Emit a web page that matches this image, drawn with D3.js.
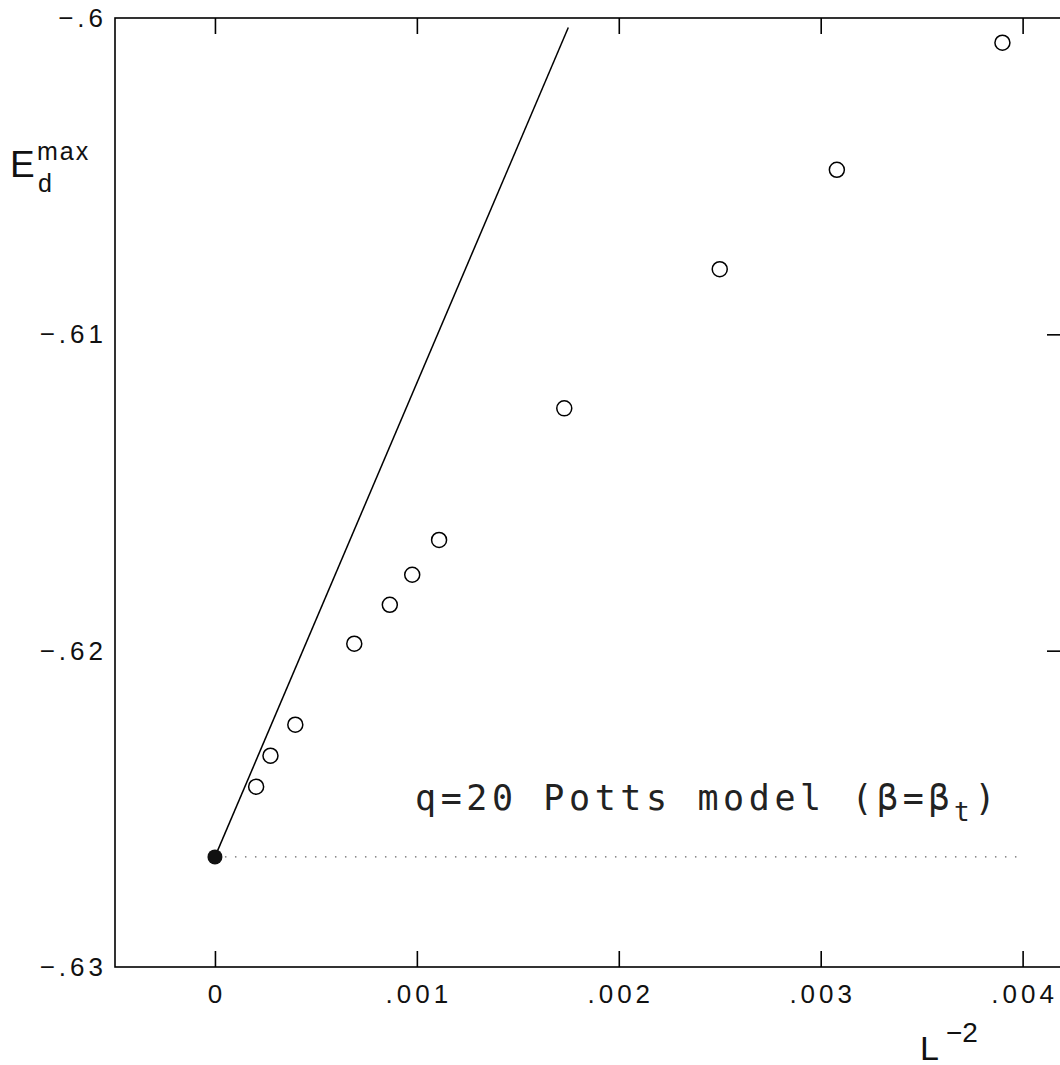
<!DOCTYPE html>
<meta charset="utf-8">
<head>
<script src="https://d3js.org/d3.v7.min.js"></script>
<style>
  body { margin: 0; background: #fff; }
  text { font-family: "Liberation Sans", sans-serif; fill: #111; }
  .axis path, .axis line { stroke: #000; stroke-width: 1.6; }
  .ticklab { font-size: 26px; letter-spacing: 4px; }
</style>
</head>
<body>
<div id="chart"></div>
<script>
// L^-2 values and the measured E_d^max (open circles)
var xs = [0.00390, 0.00308, 0.00250, 0.00173, 0.00111, 0.000977, 0.000866, 0.000690, 0.000398, 0.000275, 0.000204];
var ys = [-0.60078, -0.60480, -0.60794, -0.61234, -0.61650, -0.61760, -0.61855, -0.61978, -0.62234, -0.62332, -0.62430];
// infinite volume point (filled) and the line through it
var limitX = 0, limitY = -0.62652;
var slopeEnd = [0.001750, -0.60030];
var dottedEnd = 0.00397;

var xTicks = [0, 0.001, 0.002, 0.003, 0.004];
var xTickLabels = ["0", ".001", ".002", ".003", ".004"];
var yTicks = [-0.63, -0.62, -0.61, -0.6];
var yTickLabels = ["\u2212.63", "\u2212.62", "\u2212.61", "\u2212.6"];

var W = 1060, H = 1065;
var mLeft = 115, mRight = 1063, mTop = 18, mBottom = 967;

var svg = d3.select("#chart").append("svg")
    .attr("width", W).attr("height", H);

var x = d3.scaleLinear().domain([-0.000495, 0.0042]).range([mLeft, mRight]);
var y = d3.scaleLinear().domain([-0.63, -0.6]).range([mBottom, mTop]);

// frame
svg.append("rect")
    .attr("x", mLeft).attr("y", mTop)
    .attr("width", mRight - mLeft).attr("height", mBottom - mTop)
    .attr("fill", "none").attr("stroke", "#000").attr("stroke-width", 1.6);

// inward ticks: bottom, top, right
svg.append("g").attr("class", "axis")
    .attr("transform", "translate(0," + mBottom + ")")
    .call(d3.axisTop(x).tickValues(xTicks).tickSize(16).tickFormat(""))
    .call(function(g) { g.select(".domain").remove(); });
svg.append("g").attr("class", "axis")
    .attr("transform", "translate(0," + mTop + ")")
    .call(d3.axisBottom(x).tickValues(xTicks).tickSize(16).tickFormat(""))
    .call(function(g) { g.select(".domain").remove(); });
svg.append("g").attr("class", "axis")
    .attr("transform", "translate(" + mRight + ",0)")
    .call(d3.axisLeft(y).tickValues(yTicks.slice(1, 3)).tickSize(16).tickFormat(""))
    .call(function(g) { g.select(".domain").remove(); });

svg.selectAll(".xlab").data(xTicks).enter().append("text")
    .attr("class", "ticklab")
    .attr("x", function(d) { return x(d) + 2; })
    .attr("y", mBottom + 36)
    .attr("text-anchor", "middle")
    .text(function(d, i) { return xTickLabels[i]; });

svg.selectAll(".ylab").data(yTicks).enter().append("text")
    .attr("class", "ticklab")
    .attr("x", mLeft - 8)
    .attr("y", function(d) { return y(d) + 9; })
    .attr("text-anchor", "end")
    .text(function(d, i) { return yTickLabels[i]; });

// axis titles
var yt = svg.append("text").attr("x", 10).attr("y", 177).style("font-size", "37px");
yt.append("tspan").text("E");
yt.append("tspan").attr("x", 37).attr("y", 160).style("font-size", "25px").style("letter-spacing", "2px").text("max");
yt.append("tspan").attr("x", 38).attr("y", 192).style("font-size", "25px").text("d");

var xt = svg.append("text").attr("x", 920).attr("y", 1060).style("font-size", "34px");
xt.append("tspan").text("L");
xt.append("tspan").attr("x", 946).attr("y", 1042).style("font-size", "28px").text("\u22122");

// slope line
svg.append("line")
    .attr("x1", x(limitX)).attr("y1", y(limitY))
    .attr("x2", x(slopeEnd[0])).attr("y2", y(slopeEnd[1]))
    .attr("stroke", "#000").attr("stroke-width", 1.5);

// dotted level line
svg.append("line")
    .attr("x1", x(limitX) + 10).attr("y1", y(limitY))
    .attr("x2", x(dottedEnd)).attr("y2", y(limitY))
    .attr("stroke", "#666").attr("stroke-width", 1.2)
    .attr("stroke-dasharray", "1.5,8.5");

// open circles
svg.selectAll(".pt").data(xs).enter().append("circle")
    .attr("cx", function(d) { return x(d); })
    .attr("cy", function(d, i) { return y(ys[i]); })
    .attr("r", 7.5)
    .attr("fill", "none").attr("stroke", "#000").attr("stroke-width", 1.5);

svg.append("circle")
    .attr("cx", x(limitX)).attr("cy", y(limitY)).attr("r", 7.5)
    .attr("fill", "#111");

// label
var lab = svg.append("text").attr("x", 415).attr("y", 810)
    .style("font-family", "'DejaVu Sans Mono', monospace")
    .style("font-size", "35px").style("letter-spacing", "4.6px")
    .style("fill", "#222");
lab.append("tspan").text("q=20 Potts model (\u03b2=\u03b2");
lab.append("tspan").attr("dy", 11).style("font-size", "26px").text("t");
lab.append("tspan").attr("dy", -11).text(")");
</script>
</body>
</html>
